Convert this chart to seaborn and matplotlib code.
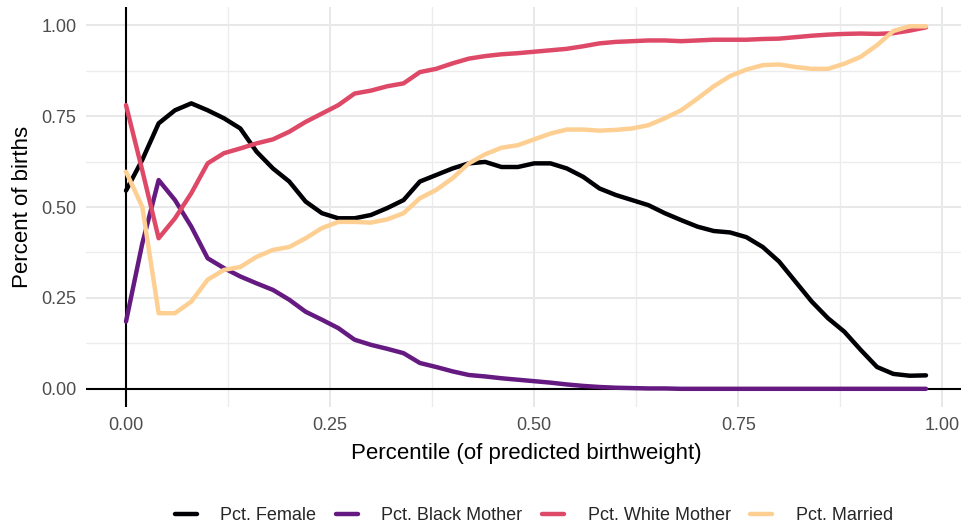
import numpy as np
import pandas as pd
import seaborn as sns
import matplotlib.pyplot as plt
from matplotlib.ticker import MultipleLocator

# Percentile bins of predicted birthweight (0.00 .. 0.98)
percentile = [round(0.02 * i, 2) for i in range(50)]

pct_female = [
    0.545, 0.63, 0.73, 0.766, 0.785, 0.766, 0.744, 0.716, 0.652, 0.606,
    0.57, 0.515, 0.483, 0.469, 0.469, 0.478, 0.497, 0.519, 0.57, 0.588,
    0.606, 0.62, 0.624, 0.61, 0.61, 0.62, 0.62, 0.606, 0.583, 0.551,
    0.533, 0.519, 0.505, 0.483, 0.464, 0.446, 0.434, 0.43, 0.417, 0.39,
    0.35, 0.295, 0.24, 0.194, 0.157, 0.107, 0.06, 0.041, 0.036, 0.037,
]
pct_black_mother = [
    0.185, 0.40, 0.574, 0.519, 0.446, 0.359, 0.332, 0.309, 0.29, 0.272,
    0.245, 0.212, 0.19, 0.167, 0.135, 0.121, 0.11, 0.098, 0.071, 0.06,
    0.048, 0.038, 0.034, 0.029, 0.025, 0.021, 0.017, 0.012, 0.008, 0.005,
    0.003, 0.002, 0.001, 0.001, 0.0, 0.0, 0.0, 0.0, 0.0, 0.0,
    0.0, 0.0, 0.0, 0.0, 0.0, 0.0, 0.0, 0.0, 0.0, 0.0,
]
pct_white_mother = [
    0.78, 0.60, 0.414, 0.469, 0.538, 0.62, 0.648, 0.661, 0.675, 0.686,
    0.707, 0.734, 0.757, 0.78, 0.812, 0.82, 0.832, 0.84, 0.871, 0.88,
    0.895, 0.908, 0.915, 0.92, 0.923, 0.927, 0.931, 0.935, 0.942, 0.95,
    0.954, 0.956, 0.958, 0.958, 0.956, 0.958, 0.96, 0.96, 0.96, 0.962,
    0.963, 0.967, 0.971, 0.974, 0.976, 0.977, 0.976, 0.978, 0.985, 0.994,
]
pct_married = [
    0.597, 0.50, 0.208, 0.208, 0.24, 0.30, 0.327, 0.335, 0.363, 0.382,
    0.39, 0.414, 0.442, 0.459, 0.459, 0.457, 0.466, 0.483, 0.524, 0.547,
    0.579, 0.62, 0.645, 0.663, 0.67, 0.686, 0.702, 0.713, 0.713, 0.71,
    0.712, 0.716, 0.725, 0.744, 0.766, 0.798, 0.832, 0.86, 0.878, 0.89,
    0.892, 0.885, 0.88, 0.88, 0.894, 0.913, 0.945, 0.984, 0.997, 0.997,
]

series_names = ["Pct. Female", "Pct. Black Mother", "Pct. White Mother", "Pct. Married"]
series_values = [pct_female, pct_black_mother, pct_white_mother, pct_married]

df = pd.concat(
    [pd.DataFrame({"percentile": percentile, "value": vals, "variable": name})
     for name, vals in zip(series_names, series_values)],
    ignore_index=True,
)

cmap = plt.get_cmap("magma")
palette = dict(zip(series_names, [cmap(0.0), cmap(0.3), cmap(0.6), cmap(0.9)]))

sns.set_theme(style="white")
plt.rcParams["font.family"] = ["Liberation Sans", "DejaVu Sans"]

fig = plt.figure(figsize=(9.62, 5.29), dpi=100)
ax = fig.add_axes([86 / 962, 1 - 407 / 529, 880 / 962, 400 / 529])

# reference axes through the origin
ax.axhline(0, color="black", lw=1.5, zorder=1)
ax.axvline(0, color="black", lw=1.5, zorder=1)

sns.lineplot(data=df, x="percentile", y="value", hue="variable",
             hue_order=series_names, palette=palette, linewidth=3.2,
             ax=ax, legend=True, zorder=3)

ax.set_xlim(-0.049, 1.029)
ax.set_ylim(-0.05, 1.05)
ax.xaxis.set_major_locator(MultipleLocator(0.25))
ax.yaxis.set_major_locator(MultipleLocator(0.25))
ax.xaxis.set_minor_locator(MultipleLocator(0.125))
ax.yaxis.set_minor_locator(MultipleLocator(0.125))
ax.xaxis.set_major_formatter(lambda v, p: f"{v:.2f}")
ax.yaxis.set_major_formatter(lambda v, p: f"{v:.2f}")
ax.grid(which="major", color="#e8e8e8", lw=1.4, zorder=0)
ax.grid(which="minor", color="#ececec", lw=1.0, zorder=0)
ax.set_axisbelow(True)
for s in ax.spines.values():
    s.set_visible(False)
ax.tick_params(which="both", length=0, labelsize=13, labelcolor="#4d4d4d", pad=7)

ax.set_xlabel("Percentile (of predicted birthweight)", fontsize=16, color="black", labelpad=7)
ax.set_ylabel("Percent of births", fontsize=16, color="black", labelpad=6)

handles, labels = ax.get_legend_handles_labels()
ax.get_legend().remove()
fig.legend(handles, labels, loc="center", bbox_to_anchor=(534 / 962, 1 - 516 / 529),
           ncol=4, frameon=False, fontsize=13, handlelength=1.2,
           handletextpad=1.3, columnspacing=1.1)

fig.savefig("out.png", dpi=100)
